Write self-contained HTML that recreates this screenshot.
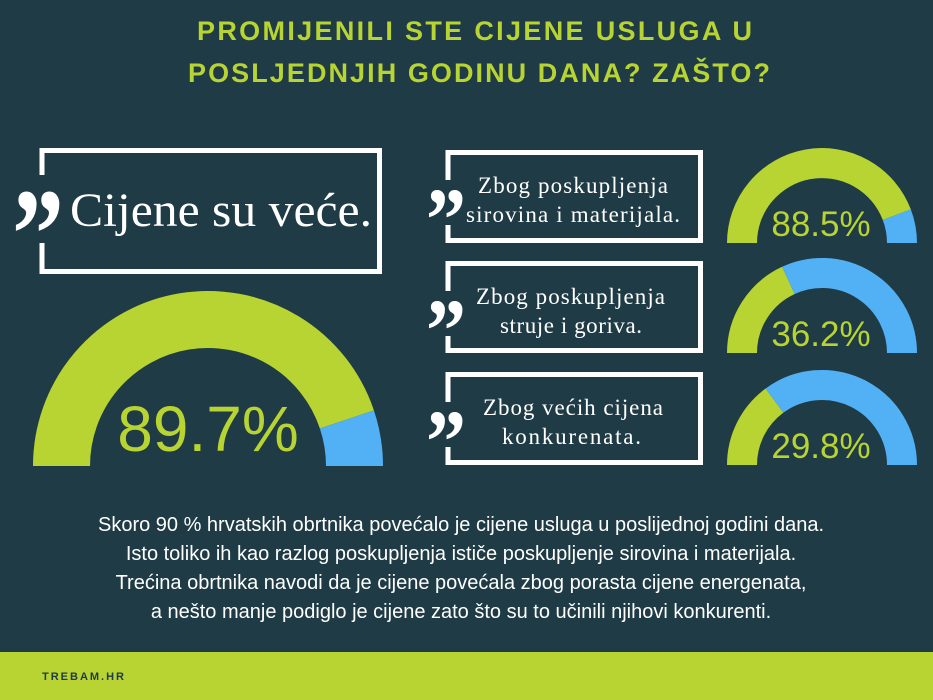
<!DOCTYPE html>
<html><head><meta charset="utf-8"><style>
html,body{margin:0;padding:0}
body{width:933px;height:700px;background:#1f3b45;position:relative;overflow:hidden;font-family:"Liberation Sans",sans-serif}
.p{position:absolute;left:0;width:922px;top:511px;text-align:center;color:#fff;font-size:20px;line-height:29px}
.f{position:absolute;left:0;top:652px;width:933px;height:48px;background:#b8d432}
.f span{position:absolute;left:42px;top:19px;font-size:11px;font-weight:bold;letter-spacing:2px;color:#1f3b45}
svg{position:absolute;left:0;top:0}
</style></head><body>
<svg width="933" height="700">
<g font-family="Liberation Sans,sans-serif" font-weight="bold" fill="#b8d432" font-size="27" lengthAdjust="spacingAndGlyphs">
<text x="197" y="40" textLength="555">PROMIJENILI STE CIJENE USLUGA U</text>
<text x="188" y="82" textLength="582">POSLJEDNJIH GODINU DANA? ZAŠTO?</text>
</g>
<g fill="none" stroke="#fff" stroke-width="5">
<path d="M42 175 V150.5 H379.5 V271.5 H42 V243"/>
<path d="M448 180 V152.5 H700.5 V240.5 H448 V225"/>
<path d="M448 291 V263.5 H700.5 V350.5 H448 V336"/>
<path d="M448 402 V374.5 H700.5 V462.5 H448 V447"/>
</g>
<g font-family="Liberation Serif,serif" font-weight="bold" fill="#fff">
<text x="12" y="278" font-size="130" textLength="52" lengthAdjust="spacingAndGlyphs">”</text>
<text x="426" y="250" font-size="90" textLength="40" lengthAdjust="spacingAndGlyphs">”</text>
<text x="426" y="361" font-size="90" textLength="40" lengthAdjust="spacingAndGlyphs">”</text>
<text x="426" y="472" font-size="90" textLength="40" lengthAdjust="spacingAndGlyphs">”</text>
</g>
<g font-family="Liberation Serif,serif" fill="#fff">
<text x="70" y="226" font-size="48" textLength="302" lengthAdjust="spacingAndGlyphs">Cijene su veće.</text>
<g font-size="23" lengthAdjust="spacingAndGlyphs">
<text x="478" y="193" textLength="190">Zbog poskupljenja</text>
<text x="466" y="222" textLength="214">sirovina i materijala.</text>
<text x="476" y="304" textLength="189">Zbog poskupljenja</text>
<text x="500" y="333" textLength="142">struje i goriva.</text>
<text x="483" y="415" textLength="180">Zbog većih cijena</text>
<text x="502" y="444" textLength="139">konkurenata.</text>
</g></g>
<g fill="none">
<path d="M61.5 466 A146.5 146.5 0 0 1 346.9 419.4" stroke="#b8d432" stroke-width="57"/>
<path d="M346.9 419.4 A146.5 146.5 0 0 1 354.5 466" stroke="#52b0f5" stroke-width="57"/>
<path d="M742 243 A80 80 0 0 1 896.8 214.7" stroke="#b8d432" stroke-width="30"/>
<path d="M896.8 214.7 A80 80 0 0 1 902 243" stroke="#52b0f5" stroke-width="30"/>
<path d="M742 353 A80 80 0 0 1 788.4 280.4" stroke="#b8d432" stroke-width="30"/>
<path d="M788.4 280.4 A80 80 0 0 1 902 353" stroke="#52b0f5" stroke-width="30"/>
<path d="M742 465 A80 80 0 0 1 774.5 400.6" stroke="#b8d432" stroke-width="30"/>
<path d="M774.5 400.6 A80 80 0 0 1 902 465" stroke="#52b0f5" stroke-width="30"/>
</g>
<g font-family="Liberation Sans,sans-serif" fill="#b8d432" text-anchor="middle">
<text x="208" y="451" font-size="64">89.7%</text>
<text x="821" y="236" font-size="35">88.5%</text>
<text x="821" y="346" font-size="35">36.2%</text>
<text x="821" y="458" font-size="35">29.8%</text>
</g>
</svg>
<div class="p">Skoro 90 % hrvatskih obrtnika povećalo je cijene usluga u poslijednoj godini dana.<br>Isto toliko ih kao razlog poskupljenja ističe poskupljenje sirovina i materijala.<br>Trećina obrtnika navodi da je cijene povećala zbog porasta cijene energenata,<br>a nešto manje podiglo je cijene zato što su to učinili njihovi konkurenti.</div>
<div class="f"><span>TREBAM.HR</span></div>
</body></html>
